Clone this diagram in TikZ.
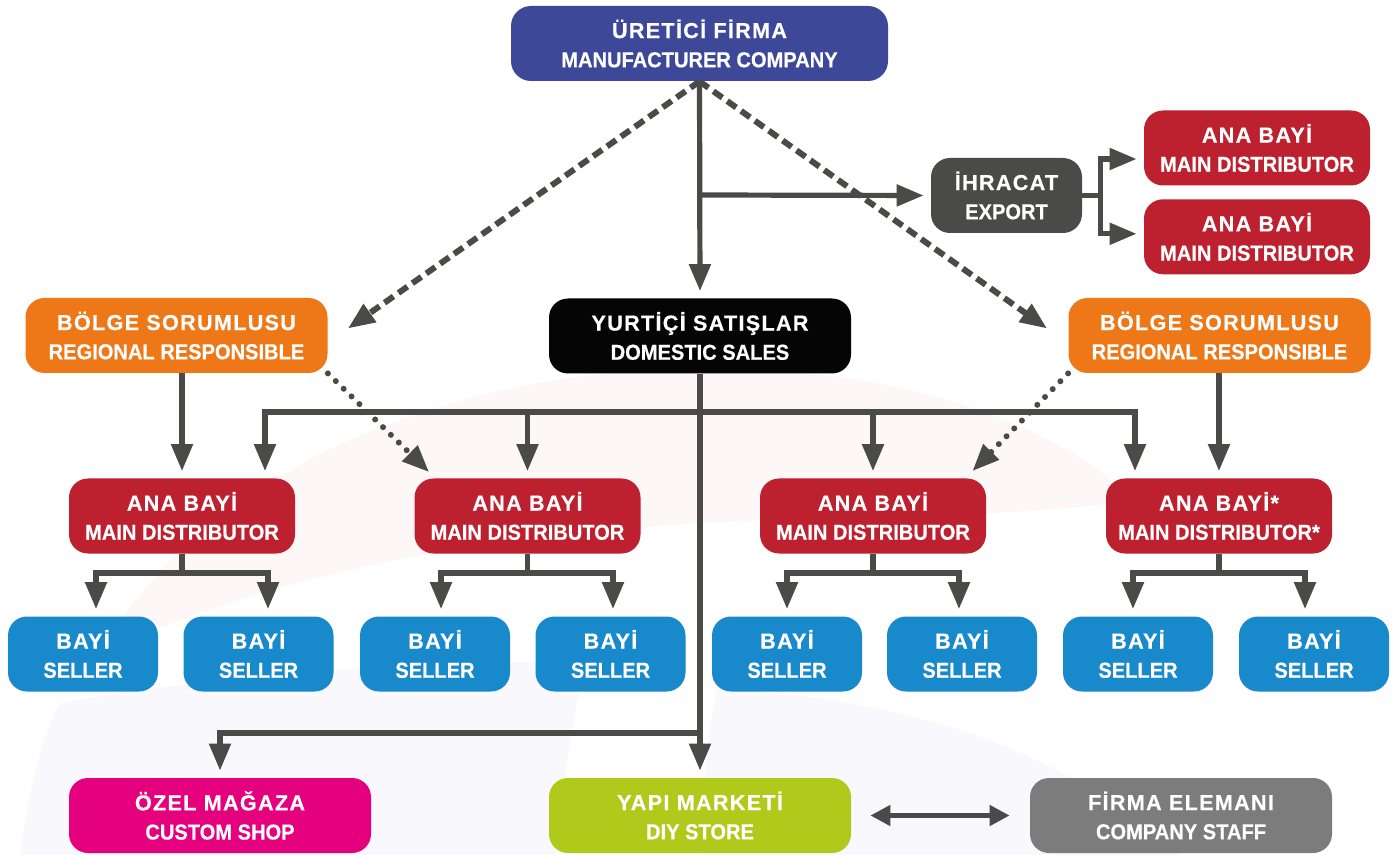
\documentclass[tikz,border=0pt]{standalone}
\usepackage{fontspec}
\setmainfont{Liberation Sans}[FakeStretch=0.93,FakeBold=0.5]
\newfontfamily\headfont{Liberation Sans}[LetterSpace=6,FakeBold=0.5]
\usetikzlibrary{arrows.meta,positioning}

\definecolor{linegray}{HTML}{4A4A48}
\definecolor{mfrblue}{HTML}{3E4899}
\definecolor{domblack}{HTML}{050505}
\definecolor{expgray}{HTML}{4A4A48}
\definecolor{distred}{HTML}{BD202E}
\definecolor{regorange}{HTML}{EE7817}
\definecolor{sellerblue}{HTML}{1889CA}
\definecolor{shopmagenta}{HTML}{E5007D}
\definecolor{diygreen}{HTML}{AFCA1B}
\definecolor{staffgray}{HTML}{7C7C7C}
\definecolor{bgpink}{HTML}{FDF8F7}
\definecolor{bglav}{HTML}{F8F8FD}

\tikzset{
  box/.style={
    rectangle,
    rounded corners=9.5pt,
    align=center,
    text=white,
    inner sep=2pt,
    minimum height=37.5pt,
    minimum width=151pt,
    font=\fontsize{10.8}{14.6}\selectfont\bfseries,
  },
  mfrbox/.style={box, fill=mfrblue, minimum width=188.5pt, rounded corners=10pt},
  regbox/.style={box, fill=regorange},
  dombox/.style={box, fill=domblack},
  expbox/.style={box, fill=expgray, minimum width=75.5pt},
  distbox/.style={box, fill=distred, minimum width=113pt},
  sellerbox/.style={box, fill=sellerblue, minimum width=75pt},
  shopbox/.style={box, fill=shopmagenta},
  diybox/.style={box, fill=diygreen},
  staffbox/.style={box, fill=staffgray},
  line/.style={draw=linegray, line width=2.6pt},
  tip/.style={-{Triangle[length=13.5pt, width=10.5pt]}},
  arr/.style={line, tip, shorten >=3.5pt},
  dasharr/.style={line, tip, line width=3pt, dash pattern=on 5.5pt off 3pt},
  dotarr/.style={line, tip, line width=3pt, line cap=round, dash pattern=on 0pt off 5.5pt},
  darr/.style={
    line, line width=2.4pt,
    {Triangle[length=10pt, width=10pt]}-{Triangle[length=10pt, width=10pt]},
    shorten <=9.5pt, shorten >=10pt,
  },
}

\begin{document}
\begin{tikzpicture}[x=0.5pt, y=-0.5pt]
  \useasboundingbox (0,0) rectangle (1392,855);
  \fill[white] (0,0) rectangle (1392,855);

  % faint backdrop
  \fill[bgpink] (100,655) .. controls (200,470) and (450,370) .. (700,368)
    .. controls (900,368) and (1050,420) .. (1135,500)
    .. controls (1000,520) and (850,515) .. (700,523)
    .. controls (450,540) and (250,580) .. (100,655);
  \fill[bglav] (20,855) .. controls (30,780) and (45,730) .. (60,703)
    .. controls (250,670) and (450,660) .. (585,662)
    .. controls (570,740) and (560,800) .. (555,855) -- cycle;
  \fill[bglav] (717,688) .. controls (900,700) and (1050,740) .. (1180,855)
    -- (700,855) .. controls (703,780) and (710,720) .. (717,688);

  \node[mfrbox] (mfr) at (699.5,43.5) {{\headfont ÜRETİCİ FİRMA}\\MANUFACTURER COMPANY};
  \node[expbox] (exp) at (1006.5,195.5) {{\headfont İHRACAT}\\EXPORT};
  \node[distbox] (ex1) at (1257,148) {{\headfont ANA BAYİ}\\MAIN DISTRIBUTOR};
  \node[distbox, below=6.5pt of ex1] (ex2) {{\headfont ANA BAYİ}\\MAIN DISTRIBUTOR};

  \node[regbox] (regl) at (176.5,335.5) {{\headfont BÖLGE SORUMLUSU}\\REGIONAL RESPONSIBLE};
  \node[dombox] (dom) at (700,336) {{\headfont YURTİÇİ SATIŞLAR}\\DOMESTIC SALES};
  \node[regbox] (regr) at (1219.5,335.5) {{\headfont BÖLGE SORUMLUSU}\\REGIONAL RESPONSIBLE};

  \node[distbox] (ana1) at (182,516) {{\headfont ANA BAYİ}\\MAIN DISTRIBUTOR};
  \node[distbox] (ana2) at (527.5,516) {{\headfont ANA BAYİ}\\MAIN DISTRIBUTOR};
  \node[distbox] (ana3) at (873,516) {{\headfont ANA BAYİ}\\MAIN DISTRIBUTOR};
  \node[distbox] (ana4) at (1219,516) {{\headfont ANA BAYİ*}\\MAIN DISTRIBUTOR*};

  \node[sellerbox] (bayi1) at (83,654) {{\headfont BAYİ}\\SELLER};
  \node[sellerbox] (bayi2) at (258.5,654) {{\headfont BAYİ}\\SELLER};
  \node[sellerbox] (bayi3) at (435,654) {{\headfont BAYİ}\\SELLER};
  \node[sellerbox] (bayi4) at (610.5,654) {{\headfont BAYİ}\\SELLER};
  \node[sellerbox] (bayi5) at (787,654) {{\headfont BAYİ}\\SELLER};
  \node[sellerbox] (bayi6) at (962,654) {{\headfont BAYİ}\\SELLER};
  \node[sellerbox] (bayi7) at (1138,654) {{\headfont BAYİ}\\SELLER};
  \node[sellerbox] (bayi8) at (1314,654) {{\headfont BAYİ}\\SELLER};

  \node[shopbox] (shop) at (220,815.5) {{\headfont ÖZEL MAĞAZA}\\CUSTOM SHOP};
  \node[diybox] (diy) at (700,815.5) {{\headfont YAPI MARKETİ}\\DIY STORE};
  \node[staffbox] (staff) at (1181,815.5) {{\headfont FİRMA ELEMANI}\\COMPANY STAFF};

  \coordinate (expfork) at (700,195);
  \coordinate (bus) at (700,412);
  \coordinate (shopfork) at (700,733);

  % from the manufacturer
  \draw[dasharr] (mfr.south) -- ([shift={(20,-7)}]regl.east);
  \draw[dasharr] (mfr.south) -- ([shift={(-21,-7)}]regr.west);
  \draw[arr] (mfr.south) -- (dom.north);
  \draw[arr] (expfork) -- (exp.west);
  \draw[arr] (exp.east) -- ++(18,0) |- ([shift={(0,11)}]ex1.west);
  \draw[arr] (exp.east) -- ++(18,0) |- ([shift={(0,-3)}]ex2.west);

  % domestic sales
  \draw[arr] (dom.south) -- (diy.north);
  \draw[arr] (shopfork) -| (shop.north);
  \draw[arr] (bus) -| ([shift={(83,0)}]ana1.north);
  \draw[arr] (bus) -| (ana2.north);
  \draw[arr] (bus) -| (ana3.north);
  \draw[arr] (bus) -| ([shift={(-84,0)}]ana4.north);

  % regional
  \draw[arr] (regl.south -| ana1.north) -- (ana1.north);
  \draw[arr] (regr.south -| ana4.north) -- (ana4.north);
  \draw[dotarr] (regl.south east) -- ([shift={(15,-6)}]ana2.north west);
  \draw[dotarr] (regr.south west) -- ([shift={(-14,-7)}]ana3.north east);

  % sellers
  \draw[arr] (ana1.south) -- ++(0,19) -| ([shift={(13,0)}]bayi1.north);
  \draw[arr] (ana1.south) -- ++(0,19) -| ([shift={(9.5,0)}]bayi2.north);
  \draw[arr] (ana2.south) -- ++(0,19) -| ([shift={(6,0)}]bayi3.north);
  \draw[arr] (ana2.south) -- ++(0,19) -| ([shift={(2.5,0)}]bayi4.north);
  \draw[arr] (ana3.south) -- ++(0,19) -| (bayi5.north);
  \draw[arr] (ana3.south) -- ++(0,19) -| ([shift={(-3,0)}]bayi6.north);
  \draw[arr] (ana4.south) -- ++(0,19) -| ([shift={(-5,0)}]bayi7.north);
  \draw[arr] (ana4.south) -- ++(0,19) -| ([shift={(-9,0)}]bayi8.north);

  \draw[darr] (diy) -- (staff);
\end{tikzpicture}
\end{document}
